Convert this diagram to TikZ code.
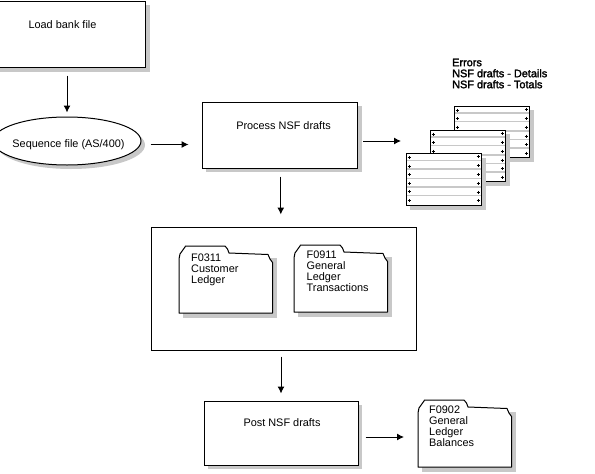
\documentclass[tikz,border=0pt]{standalone}
\usepackage{fontspec}
\setmainfont{Liberation Sans}
\newfontface\heavyface[FakeBold=2]{Liberation Sans}
\usetikzlibrary{arrows.meta,shapes.geometric}
\definecolor{shadowgray}{HTML}{C8C8C8}
\tikzset{
  every node/.style={font=\fontsize{10.9}{11}\selectfont,text=black},
  box/.style={draw=black,line width=1pt,fill=white,inner sep=0pt},
  lab/.style={inner sep=0pt,align=left,anchor=north west},
  hold/.style={inner sep=0pt,draw=none},
  arr/.style={line width=1pt,-{Latex[length=7pt,width=7pt]}},
  folderline/.style={draw=black,line width=1pt,fill=white,line join=round},
  rule/.style={draw=shadowgray,line width=1.3pt},
  tick/.style={draw=black,line width=.8pt},
  sheetbox/.style={draw=black,line width=1pt,fill=white},
}
% #1 name, #2 left, #3 top
\newcommand{\foldershape}[3]{%
  \begin{scope}[shift={(#2,#3)}]
    \fill[shadowgray] (4,12) rectangle (98,71.5);
    \path[folderline] (0,13) -- (1,8) -- (6,1) -- (6.5,0) -- (46,0) -- (48.5,3) -- (50,7) -- (89,8.5) -- (91,13) -- (93.5,16.5) -- (93.5,67) -- (0,67) -- cycle;
    \node[hold,minimum width=93.5pt,minimum height=67pt,anchor=north west] (#1) at (0,0) {};
  \end{scope}}
% #1 name, #2 left, #3 top
\newcommand{\sheetshape}[3]{%
  \begin{scope}[shift={(#2,#3)}]
    \fill[shadowgray] (4,4) rectangle (80,56);
    \path[sheetbox] (0,0) rectangle (75.7,51.5);
    \foreach \ly in {7,15.5,25,33.5,42} {\draw[rule] (.8,\ly) -- (75,\ly);}
    \foreach \py/\qy in {4/3,12.5/12,21/21,29.5/30,38/38.5,47/47} {
      \draw[tick] (1.5,\py) -- (4.5,\py) (3,\py-1.5) -- (3,\py+1.5);
      \draw[tick] (70.5,\qy) -- (73.5,\qy) (72,\qy-1.5) -- (72,\qy+1.5);
    }
    \node[hold,minimum width=75.7pt,minimum height=51.5pt,anchor=north west] (#1) at (0,0) {};
  \end{scope}}
\begin{document}
\begin{tikzpicture}[x=1pt,y=-1pt]
\useasboundingbox (0,0) rectangle (595,474);
\fill[white] (0,0) rectangle (595,474);
% load box
\fill[shadowgray] (0,5) rectangle (149.5,71.5);
\node[box,minimum width=156pt,minimum height=66pt] (load) at (67,34) {};
\node[inner sep=0pt] (loadt) at (62.5,25) {Load bank file};
% sequence file
\fill[shadowgray] (71,145) ellipse [x radius=74,y radius=24];
\node[box,ellipse,minimum width=148pt,minimum height=48pt] (seq) at (67,141) {};
\node[inner sep=0pt] (seqt) at (68.5,145) {Sequence file (AS/400)};
% process
\fill[shadowgray] (206,106) rectangle (362,172);
\node[box,minimum width=155.5pt,minimum height=66pt] (proc) at (279.8,135) {};
\node[inner sep=0pt] (proct) at (283.5,126) {Process NSF drafts};
% tables
\node[box,minimum width=265pt,minimum height=123pt] (tables) at (283.5,288.5) {};
\foldershape{f1}{179}{246}
\node[lab] (f1t) at (191,253.5) {F0311\\Customer\\Ledger};
\foldershape{f2}{294}{245}
\node[lab] (f2t) at (306.5,251) {F0911\\General\\Ledger\\Transactions};
% post
\fill[shadowgray] (208,405) rectangle (362,469);
\node[box,minimum width=154pt,minimum height=64pt] (post) at (281,433) {};
\node[inner sep=0pt] (postt) at (282,423) {Post NSF drafts};
\foldershape{f3}{418}{400}
\node[lab] (f3t) at (429,406) {F0902\\General\\Ledger\\Balances};
% reports
\sheetshape{s3}{454}{106}
\sheetshape{s2}{430}{130}
\sheetshape{s1}{406}{153.5}
\node[lab,font=\fontsize{10.9}{11}\heavyface] (rept) at (452,58.5) {Errors\\NSF drafts - Details\\NSF drafts - Totals};
% connectors
\coordinate (repin) at (401,141);
\draw[arr,shorten <=8pt,shorten >=4pt] (load.south) -- (seq.north);
\draw[arr,shorten <=9pt,shorten >=13pt] ([yshift=-3.5pt]seq.east) -- ([yshift=-3.5pt]seq.east -| proc.west);
\draw[arr,shorten <=5pt] ([yshift=-6pt]proc.east) -- (repin);
\draw[arr,shorten <=8pt,shorten >=12pt] ([xshift=1pt]proc.south) -- ([xshift=1pt]proc.south |- tables.north);
\draw[arr,shorten <=6pt,shorten >=7pt] (tables.south -| post.north) -- (post.north);
\draw[arr,shorten <=7pt,shorten >=14pt] ([yshift=-4pt]post.east) -- ([yshift=-4pt]post.east -| f3.west);
\end{tikzpicture}
\end{document}
